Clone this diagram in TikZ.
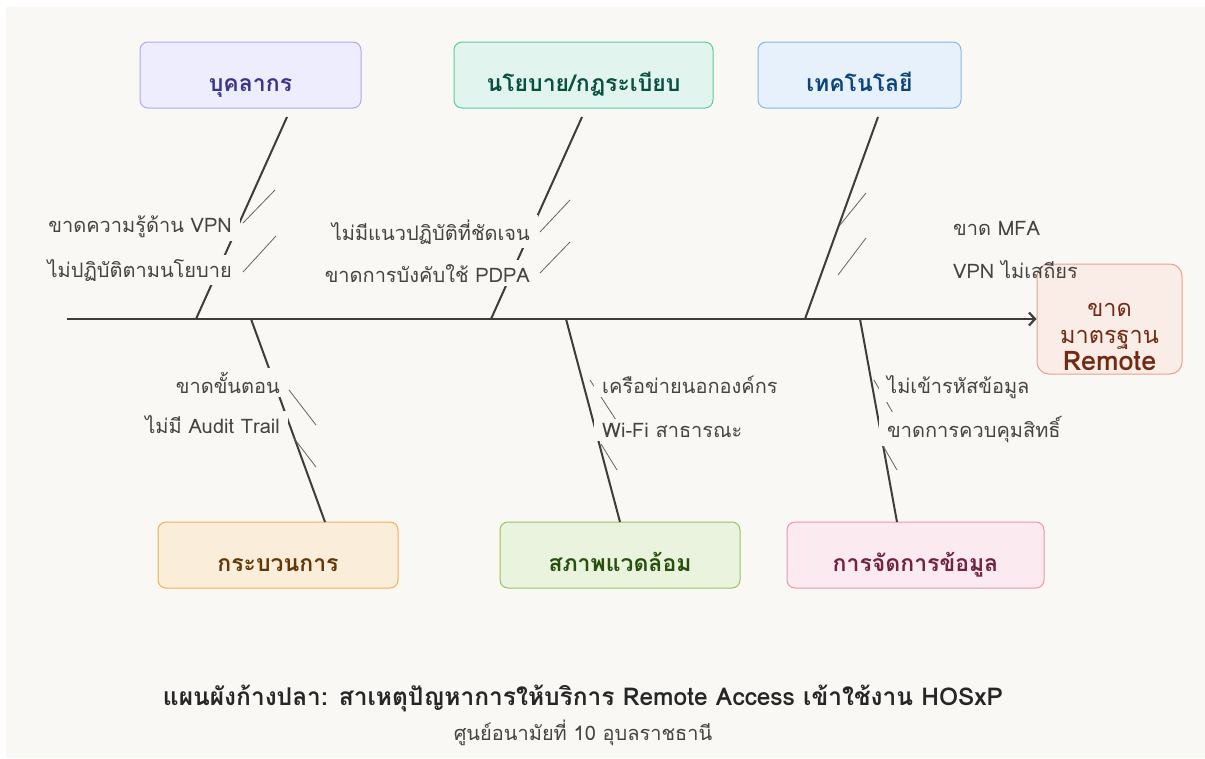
\documentclass[tikz,border=0pt]{standalone}
\usepackage{fontspec}
\setmainfont[Script=Thai]{Loma}
\usetikzlibrary{arrows.meta,calc}
\definecolor{bg}{HTML}{F9F8F4}
\definecolor{ink}{HTML}{3D3D3A}
\definecolor{lbltxt}{HTML}{444441}
\definecolor{pf}{HTML}{EEEDFE}\definecolor{pd}{HTML}{AFA9EC}\definecolor{pt}{HTML}{3C3489}
\definecolor{tf}{HTML}{E1F5EE}\definecolor{td}{HTML}{5DCAA5}\definecolor{tt}{HTML}{085041}
\definecolor{bf}{HTML}{E6F1FB}\definecolor{bd}{HTML}{85B7EB}\definecolor{bt}{HTML}{0C447C}
\definecolor{af}{HTML}{FAEEDA}\definecolor{ad}{HTML}{EFB056}\definecolor{at}{HTML}{633806}
\definecolor{gf}{HTML}{EAF3DE}\definecolor{gd}{HTML}{97C459}\definecolor{gt}{HTML}{27500A}
\definecolor{kf}{HTML}{FBEAF0}\definecolor{kd}{HTML}{ED93B1}\definecolor{kt}{HTML}{72243E}
\definecolor{cf}{HTML}{FAECE7}\definecolor{cd}{HTML}{E8A28A}\definecolor{ct}{HTML}{712B13}
\begin{document}
\begin{tikzpicture}[x=1pt,y=-1pt,
  catbox/.style={draw,rounded corners=8pt,line width=1pt,minimum height=66pt,
    font=\fontsize{23}{26}\selectfont\bfseries,text height=34pt,text depth=2pt,inner ysep=0pt},
  bone/.style={draw=ink,line width=2pt},
  subbone/.style={draw=ink!80,line width=0.8pt},
  lbl/.style={fill=bg,text=lbltxt,inner xsep=8pt,inner ysep=4pt,font=\fontsize{20}{24}\selectfont},
  lblr/.style={lbl,anchor=base east},
  lbll/.style={lbl,anchor=base west},
  htxt/.style={text=ct,anchor=base,inner sep=0pt,font=\fontsize{23.5}{27}\selectfont}]
\useasboundingbox (0,0) rectangle (1205,758);
\fill[white] (0,0) rectangle (1205,758);
\fill[bg] (6,7) rectangle (1205,758);

% category boxes
\node[catbox,fill=pf,draw=pd,text=pt,minimum width=221pt] (c1) at (250.5,75) {บุคลากร};
\node[catbox,fill=tf,draw=td,text=tt,minimum width=259pt] (c2) at (583.5,75) {นโยบาย/กฎระเบียบ};
\node[catbox,fill=bf,draw=bd,text=bt,minimum width=203pt] (c3) at (859.5,75) {เทคโนโลยี};
\node[catbox,fill=af,draw=ad,text=at,minimum width=240pt] (c4) at (278,555) {กระบวนการ};
\node[catbox,fill=gf,draw=gd,text=gt,minimum width=240pt] (c5) at (620,555) {สภาพแวดล้อม};
\node[catbox,fill=kf,draw=kd,text=kt,minimum width=257pt] (c6) at (915.5,555) {การจัดการข้อมูล};

% head
\node[draw=cd,fill=cf,rounded corners=12pt,line width=1pt,minimum width=145pt,minimum height=110pt] (head) at (1109.5,319) {};
\node[htxt] (h1) at (1109.5,316) {ขาด};
\node[htxt] (h2) at (1109.5,343) {มาตรฐาน};
\node[htxt,font=\fontsize{27}{30}\selectfont\bfseries] (h3) at (1109.5,370) {Remote};

% bone end points
\coordinate (t1) at (287,117); \coordinate (s1) at (196,319);
\coordinate (t2) at (582,117); \coordinate (s2) at (491,319);
\coordinate (t3) at (878,117); \coordinate (s3) at (805,319);
\coordinate (b1) at (325,522); \coordinate (s4) at (251,319);
\coordinate (b2) at (620,522); \coordinate (s5) at (566,319);
\coordinate (b3) at (897,522); \coordinate (s6) at (860,319);
\coordinate (tail) at (67,319);

\draw[bone] (t1) -- (s1);
\draw[bone] (t2) -- (s2);
\draw[bone] (t3) -- (s3);
\draw[bone] (s4) -- (b1);
\draw[bone] (s5) -- (b2);
\draw[bone] (s6) -- (b3);
\draw[draw=ink,line width=2.8pt,-{Straight Barb[length=6pt,width=13pt,line width=2.2pt]}] (tail) -- (head.west);

% sub bones
\coordinate (u1a) at (243,223); \coordinate (u1b) at (275,190);
\coordinate (u2a) at (243,272); \coordinate (u2b) at (276,236);
\coordinate (u3a) at (540,232); \coordinate (u3b) at (570,200);
\coordinate (u4a) at (540,273); \coordinate (u4b) at (570,242);
\coordinate (u5a) at (840,225); \coordinate (u5b) at (866,193);
\coordinate (u6a) at (838,275); \coordinate (u6b) at (866,238);
\coordinate (d1a) at (289,390); \coordinate (d1b) at (316,425);
\coordinate (d2a) at (293,437); \coordinate (d2b) at (316,467);
\coordinate (d3a) at (590,380); \coordinate (d3b) at (616,420);
\coordinate (d4a) at (601,444); \coordinate (d4b) at (617,470);
\coordinate (d5a) at (874,380); \coordinate (d5b) at (897,420);
\coordinate (d6a) at (882,444); \coordinate (d6b) at (897,470);
\foreach \a/\b in {u1a/u1b,u2a/u2b,u3a/u3b,u4a/u4b,u5a/u5b,u6a/u6b,d1a/d1b,d2a/d2b,d3a/d3b,d4a/d4b,d5a/d5b,d6a/d6b}
  \draw[subbone] (\a) -- (\b);

% labels
\node[lblr] (l1) at (240,232) {ขาดความรู้ด้าน VPN};
\node[lblr] (l2) at (240,277) {ไม่ปฏิบัติตามนโยบาย};
\node[lblr] (l3) at (538,240) {ไม่มีแนวปฏิบัติที่ชัดเจน};
\node[lblr] (l4) at (538,282) {ขาดการบังคับใช้ PDPA};
\node[lbll] (l5) at (945,235) {ขาด MFA};
\node[lbll,fill=none] (l6) at (945,278) {VPN ไม่เสถียร};
\node[lblr] (l7) at (288,393) {ขาดขั้นตอน};
\node[lblr] (l8) at (288,433) {ไม่มี Audit Trail};
\node[lbll] (l9) at (594,393) {เครือข่ายนอกองค์กร};
\node[lbll] (l10) at (594,437) {Wi-Fi สาธารณะ};
\node[lbll] (l11) at (879,393) {ไม่เข้ารหัสข้อมูล};
\node[lbll] (l12) at (879,437) {ขาดการควบคุมสิทธิ์};

% title
\node[anchor=base,text=black!85,font=\fontsize{24.5}{28}\selectfont\bfseries] (title) at (583,705)
  {แผนผังก้างปลา: สาเหตุปัญหาการให้บริการ Remote Access เข้าใช้งาน HOSxP};
\node[anchor=base,text=lbltxt,font=\fontsize{20}{24}\selectfont] (sub) at (583,740)
  {ศูนย์อนามัยที่ 10 อุบลราชธานี};
\end{tikzpicture}
\end{document}
